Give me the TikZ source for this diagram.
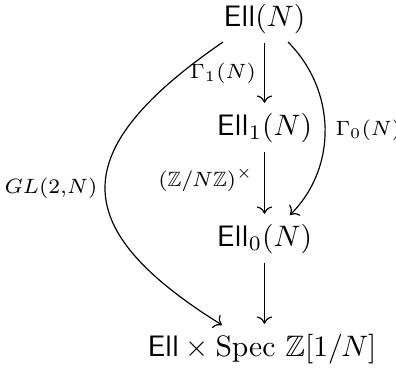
\documentclass[tikz,border=0pt]{standalone}
\usepackage{amsmath,amssymb}
\usetikzlibrary{cd}
\begin{document}
\begin{tikzpicture}[x=0.338pt,y=-0.338pt,
  obj/.style={inner sep=3.2pt,anchor=base},
  lab/.style={font=\scriptsize,inner sep=1pt},
  arr/.style={-cm to,line width=0.4pt}]
\useasboundingbox (0,0) rectangle (396,369);
\node[obj] (A) at (264.5,26) {$\mathsf{Ell}(N)$};
\node[obj] (B) at (264.5,135) {$\mathsf{Ell}_1(N)$};
\node[obj] (C) at (264.5,246) {$\mathsf{Ell}_0(N)$};
\node[obj] (D) at (262,356) {$\mathsf{Ell}\times\mathrm{Spec}\ \mathbb{Z}[1/N]$};
\draw[arr] (A.south -| 264.5,0) -- (B.north -| 264.5,0);
\draw[arr] (B.south -| 264.5,0) -- (C.north -| 264.5,0);
\draw[arr] (C.south -| 264.5,0) -- (D.north -| 264.5,0);
\coordinate (a1) at (288,42);
\coordinate (c1) at (290,215);
\coordinate (a2) at (223,42);
\coordinate (d2) at (222,325);
\draw[arr] (a1) .. controls (336,90) and (338,167) .. (c1);
\draw[arr] (a2) .. controls (66,150) and (66,228) .. (d2);
\node[lab] (l1) at (223,73) {$\Gamma_1(N)$};
\node[lab] (l2) at (206,180) {$(\mathbb{Z}/N\mathbb{Z})^\times$};
\node[lab,anchor=west] (l3) at (332,130) {$\Gamma_0(N)$};
\node[lab] (l4) at (51,188) {$GL(2{,}N)$};
\end{tikzpicture}
\end{document}
